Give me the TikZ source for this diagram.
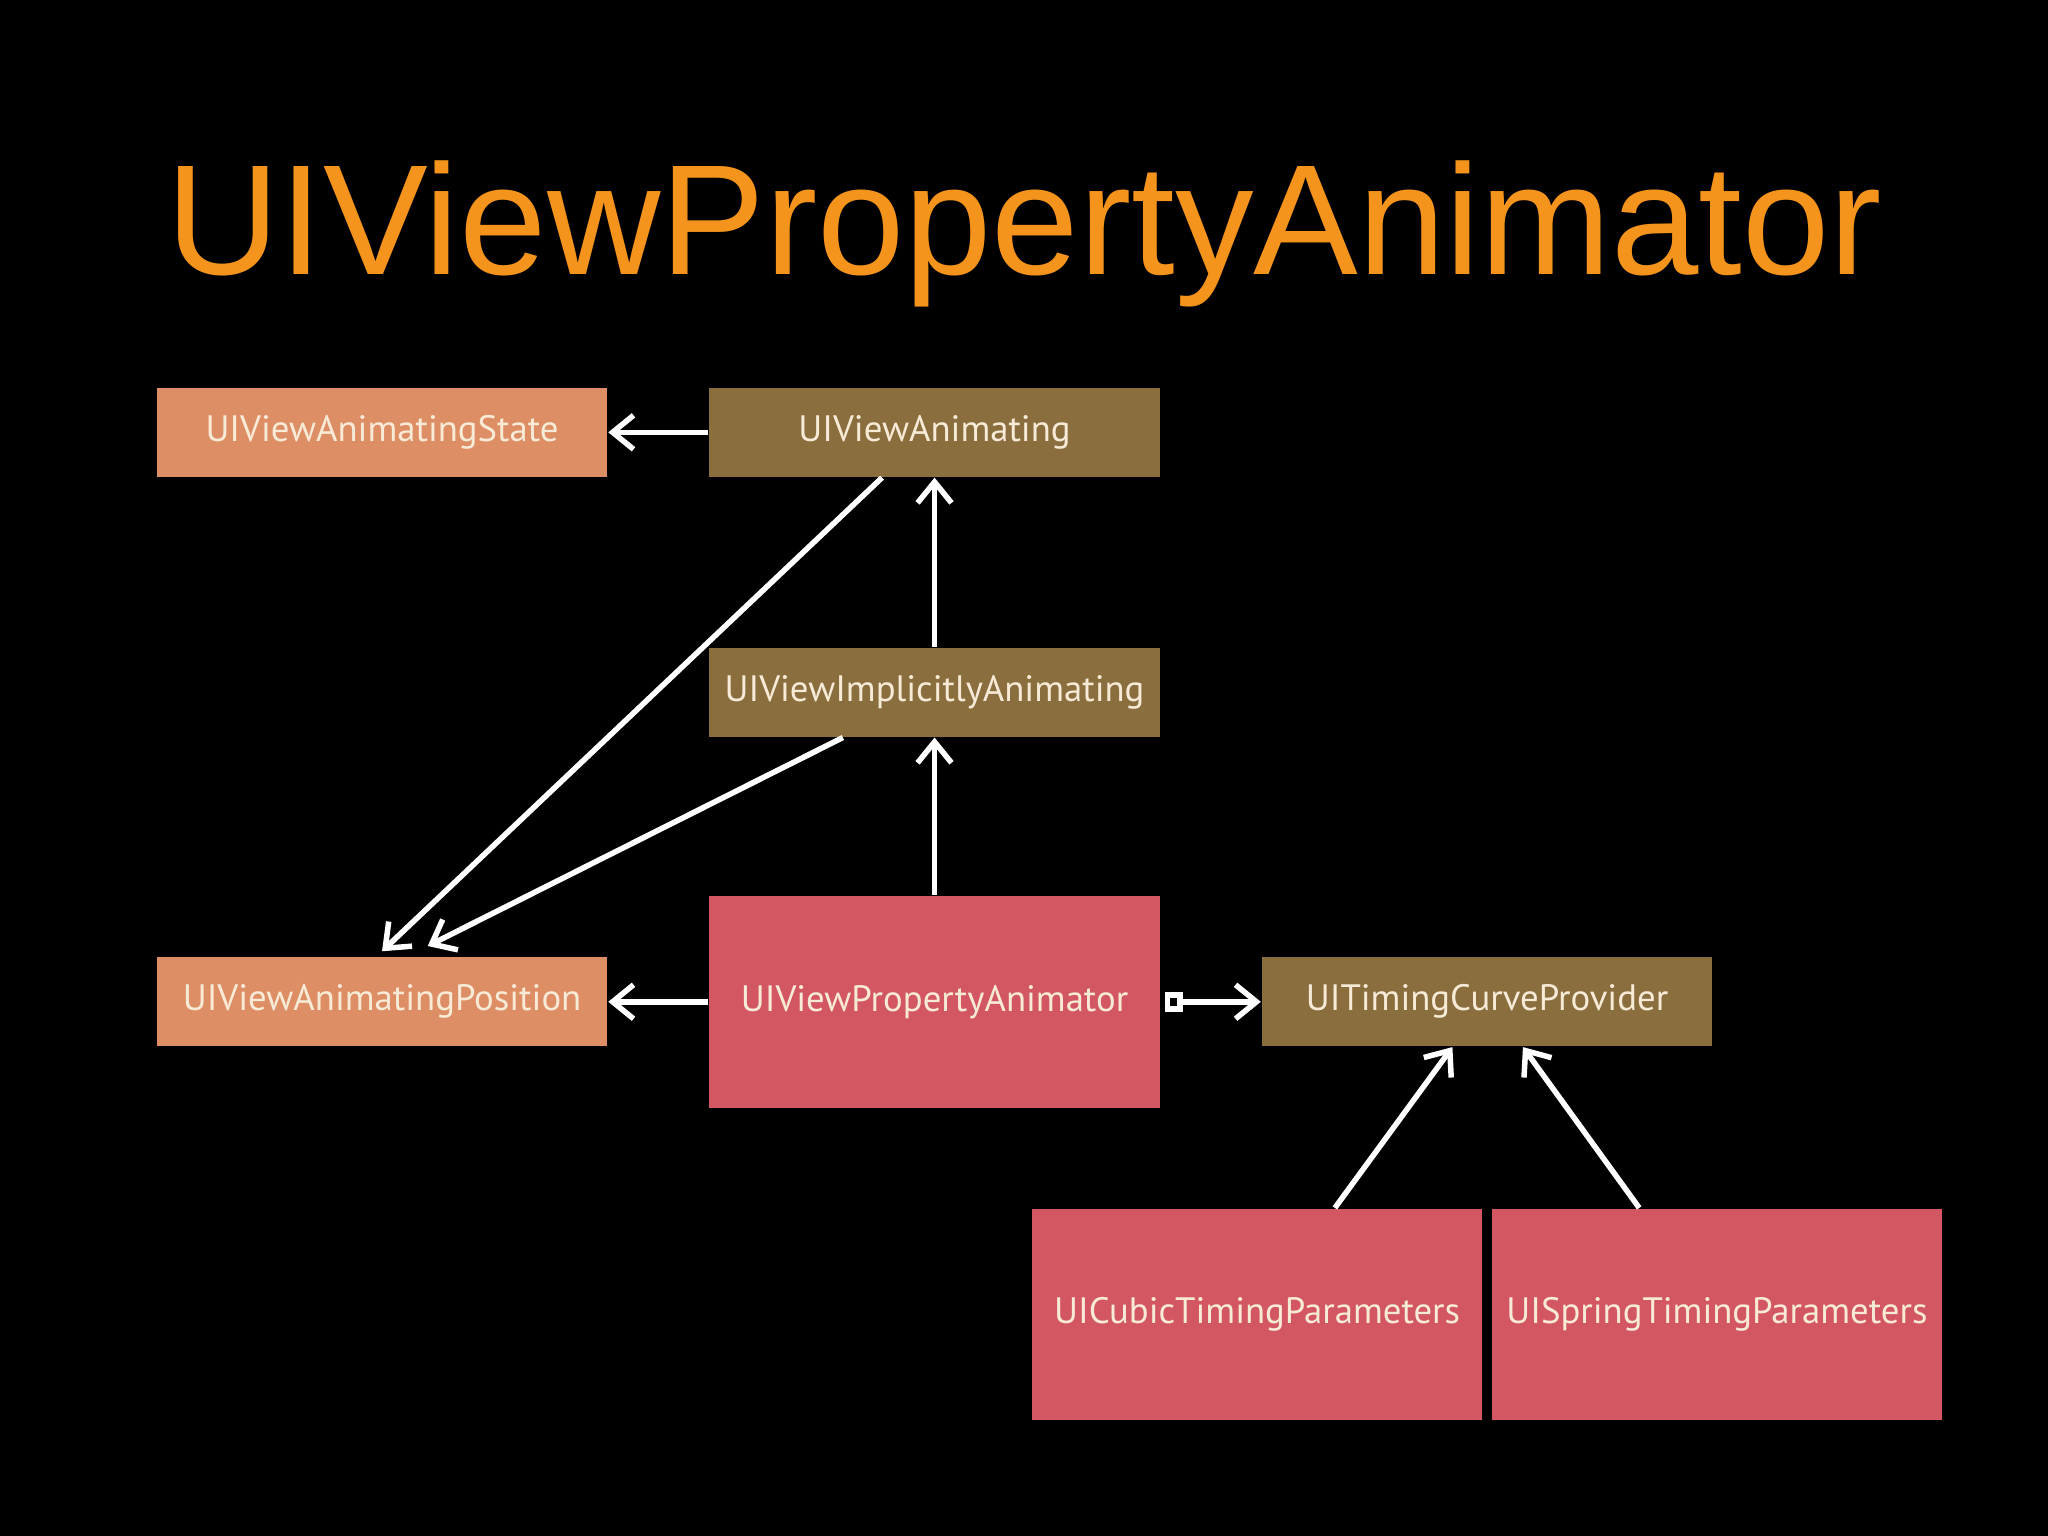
\documentclass[tikz,border=0pt]{standalone}
\usepackage{fontspec}
\usepackage{xcolor}
\usepackage{tikz}
\usetikzlibrary{arrows.meta}
\newfontfamily\boxfont{PT Sans}
\newfontfamily\titlefont{Liberation Sans}
\definecolor{peach}{RGB}{222,142,101}
\definecolor{olivebox}{RGB}{138,110,62}
\definecolor{rose}{RGB}{211,87,98}
\definecolor{cream}{RGB}{247,234,214}
\definecolor{titleorange}{RGB}{245,148,28}

\begin{document}
\begin{tikzpicture}[>={Straight Barb[length=1.6mm,width=2.6mm]}, every node/.style={font=\boxfont\fontsize{8}{9}\selectfont}, box/.style={minimum width=3.45cm,minimum height=0.68cm,inner sep=0pt,text=cream}, bigbox/.style={box,fill=rose,minimum height=1.62cm}, link/.style={draw=white,line width=1.2pt}]
\fill[black] (0,0) rectangle (15.68,-11.76);
\useasboundingbox (0,0) rectangle (15.68,-11.76);
\node[anchor=base,text=titleorange,font=\titlefont\fontsize{34.2}{40}\selectfont] (title) at (7.84,-2.10) {UIViewPropertyAnimator};
\node[box,fill=peach] (state) at (2.925,-3.31) {UIViewAnimatingState};
\node[box,fill=olivebox] (anim) at (7.155,-3.31) {UIViewAnimating};
\node[box,fill=olivebox] (impl) at (7.155,-5.30) {UIViewImplicitlyAnimating};
\node[box,fill=peach] (pos) at (2.925,-7.67) {UIViewAnimatingPosition};
\node[bigbox] (prop) at (7.155,-7.67) {UIViewPropertyAnimator};
\node[box,fill=olivebox] (curve) at (11.385,-7.67) {UITimingCurveProvider};
\node[bigbox] (cubic) at (9.625,-10.065) {UICubicTimingParameters};
\node[bigbox] (spring) at (13.145,-10.065) {UISpringTimingParameters};
\foreach \a/\b in {anim/state,prop/pos}{\draw[link,->] (\a.west) -- (\b.east);}
\foreach \a/\b in {impl/anim,prop/impl}{\draw[link,->] (\a.north) -- (\b.south);}
\draw[link,->] ([xshift=13.3mm]anim.south west) -- ([yshift=0.4mm]pos.north);
\draw[link,->] ([xshift=10.3mm]impl.south west) -- ([xshift=3.5mm,yshift=0.8mm]pos.north);
\draw[link,{Square[open,length=1.4mm,width=1.5mm]}->] ([xshift=0.3mm]prop.east) -- (curve.west);
\draw[link,->] ([xshift=5.95mm]cubic.north) -- ([xshift=-2.65mm]curve.south);
\draw[link,->] ([xshift=-5.95mm]spring.north) -- ([xshift=2.75mm]curve.south);
\end{tikzpicture}
\end{document}
